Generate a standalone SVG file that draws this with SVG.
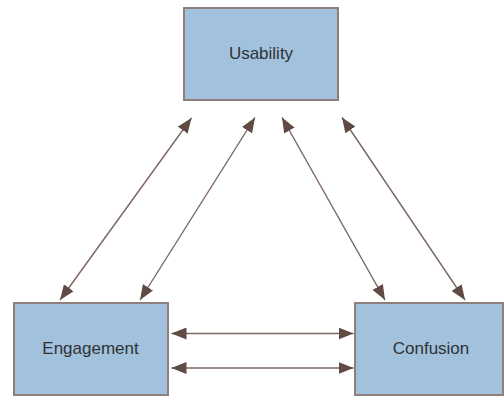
<svg xmlns="http://www.w3.org/2000/svg" width="504" height="396" viewBox="0 0 504 396">
<style>
.box{fill:#a2c1dc;stroke:#8c7f7c;stroke-width:2}
.lbl{font-family:"Liberation Sans",Arial,sans-serif;font-size:17px;fill:#303236;text-anchor:middle}
.conn{stroke:#7b6661;stroke-width:1.4;fill:none;marker-start:url(#ah);marker-end:url(#ah)}
</style>
<defs>
<marker id="ah" viewBox="0 0 15 12" refX="15" refY="6" markerWidth="15" markerHeight="12" markerUnits="userSpaceOnUse" orient="auto-start-reverse">
<path d="M0,0 L15,6 L0,12 Z" fill="#5f4b44"/>
</marker>
</defs>
<rect width="504" height="396" fill="#ffffff"/>
<g id="connectors">
<line class="conn" x1="191.5" y1="118" x2="60" y2="300"/>
<line class="conn" x1="255" y1="117.5" x2="140" y2="300"/>
<line class="conn" x1="282" y1="117.5" x2="385" y2="300"/>
<line class="conn" x1="342" y1="117.5" x2="465" y2="300"/>
<line class="conn" x1="171.5" y1="333.5" x2="353.5" y2="333.5"/>
<line class="conn" x1="171.5" y1="368" x2="353.5" y2="368"/>
</g>
<g id="usability">
<rect class="box" x="184" y="8" width="154" height="92"/>
<text class="lbl" x="261" y="59">Usability</text>
</g>
<g id="engagement">
<rect class="box" x="14" y="303" width="154" height="92"/>
<text class="lbl" x="90.5" y="354">Engagement</text>
</g>
<g id="confusion">
<rect class="box" x="355" y="303" width="148" height="92"/>
<text class="lbl" x="431" y="354">Confusion</text>
</g>
</svg>
